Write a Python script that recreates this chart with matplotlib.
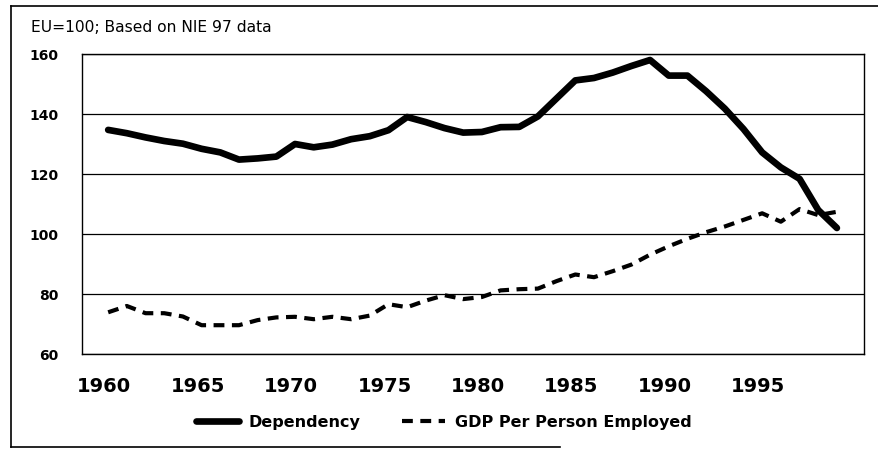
import matplotlib
matplotlib.use("Agg")
import matplotlib.pyplot as plt
from matplotlib.lines import Line2D
from matplotlib.transforms import ScaledTranslation

years = list(range(1960, 2000))
dependency = [134.7, 133.6, 132.2, 131.0, 130.1, 128.4, 127.2, 124.8, 125.2, 125.8,
              130.0, 128.9, 129.8, 131.6, 132.6, 134.6, 139.0, 137.3, 135.3, 133.8,
              134.0, 135.6, 135.7, 139.2, 145.2, 151.2, 152.0, 153.8, 156.0, 158.0,
              152.8, 152.8, 147.6, 141.8, 135.0, 127.2, 122.2, 118.4, 108.0, 102.0]
gdp = [73.9, 76.0, 73.6, 73.6, 72.5, 69.6, 69.6, 69.6, 71.3, 72.2,
       72.4, 71.6, 72.4, 71.6, 72.8, 76.6, 75.6, 77.8, 79.6, 78.3,
       79.0, 81.2, 81.6, 81.8, 84.3, 86.5, 85.6, 87.6, 89.8, 93.1,
       95.9, 98.4, 100.6, 102.5, 104.7, 106.9, 104.1, 108.3, 106.3, 107.4]
xtick_years = [1960, 1965, 1970, 1975, 1980, 1985, 1990, 1995]
ytick_vals = [60, 80, 100, 120, 140, 160]
note = "EU=100; Based on NIE 97 data"
series_names = ["Dependency", "GDP Per Person Employed"]

plt.rcParams['font.family'] = ['DejaVu Sans']

fig = plt.figure(figsize=(8.79, 4.52), dpi=100)
ax = fig.add_axes([82/879, 1 - 355/452, (864 - 82)/879, (355 - 55)/452])

ax.plot(years, dependency, color='black', lw=4.8, solid_capstyle='round',
        solid_joinstyle='round', label=series_names[0], zorder=3)
ax.plot(years, gdp, color='black', lw=3.0, linestyle=(0, (2.6, 1.8)),
        label=series_names[1], zorder=3)

ax.set_xlim(1958.6, 2000.45)
ax.set_ylim(60, 160)
ax.set_xticks(xtick_years)
ax.set_xticklabels([str(y) for y in xtick_years], fontsize=14, fontweight='bold')
ax.set_yticks(ytick_vals)
ax.set_yticklabels([str(v) for v in ytick_vals], fontsize=10, fontweight='bold')
ax.tick_params(axis='both', length=0)
ax.tick_params(axis='y', pad=17)
ax.tick_params(axis='x', pad=16)
shift = ScaledTranslation(-4/100, 0, fig.dpi_scale_trans)
for lab in ax.get_xticklabels():
    lab.set_transform(lab.get_transform() + shift)
ax.yaxis.grid(True, color='black', lw=0.9)
ax.set_axisbelow(True)
for s in ax.spines.values():
    s.set_color('black')
    s.set_linewidth(1.0)

fig.text(31/879, 1 - 28/452, note, fontsize=11.2, ha='left', va='center')

fig.legend(loc='center', bbox_to_anchor=(444/879, 1 - 423/452), ncol=2,
           frameon=False, prop={'weight': 'bold', 'size': 11.5},
           handlelength=2.7, handletextpad=0.6, columnspacing=2.6)

# outer frame
fig.add_artist(Line2D([11/879, 1.0], [1 - 7/452, 1 - 7/452], color='black', lw=1.2,
                      transform=fig.transFigure))
fig.add_artist(Line2D([11/879, 11/879], [1 - 7/452, 1 - 448/452], color='black', lw=1.2,
                      transform=fig.transFigure))
fig.add_artist(Line2D([11/879, 560/879], [1 - 448/452, 1 - 448/452], color='black', lw=1.2,
                      transform=fig.transFigure))

fig.savefig("out.png", dpi=100, facecolor='white')
